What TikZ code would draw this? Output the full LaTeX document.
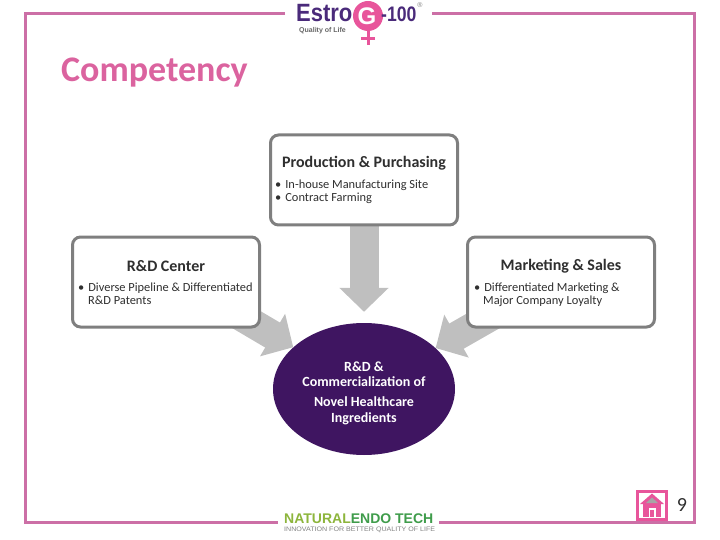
\documentclass[tikz,border=0pt]{standalone}
\usepackage{graphicx}
\usepackage{fontspec}
\setmainfont{Carlito}
\newfontfamily\logofont{Liberation Sans}
\usetikzlibrary{arrows.meta,shapes.geometric,backgrounds}
\definecolor{framepink}{HTML}{CC6FA6}
\definecolor{titlepink}{HTML}{DB639F}
\definecolor{logopink}{HTML}{E8559B}
\definecolor{logopurple}{HTML}{4A2A7A}
\definecolor{corepurple}{HTML}{3F1561}
\definecolor{boxgray}{HTML}{7F7F7F}
\definecolor{arrowgray}{HTML}{BFBFBF}
\definecolor{textgray}{HTML}{2F2F2F}
\definecolor{leafgreen}{HTML}{8DB53C}
\definecolor{endogreen}{HTML}{3F9C4B}
\tikzset{
	infobox/.style={draw=boxgray, line width=3, rounded corners=8, fill=white, minimum width=187, minimum height=90, inner sep=0},
	boxtitle/.style={font=\fontsize{16}{16}\selectfont\bfseries, text=textgray, inner sep=0},
	boxitem/.style={font=\fontsize{12.4}{13.5}\selectfont, text=textgray, align=left, inner sep=0, anchor=north west},
	coretext/.style={font=\fontsize{14}{15.5}\selectfont\bfseries, text=white, align=center, inner sep=0},
	blockarrow/.style={line width=29, draw=arrowgray, -{Triangle[length=24pt, width=48pt]}},
}

\begin{document}
\begin{tikzpicture}[x=1pt, y=-1pt]
	\useasboundingbox (0, 0) rectangle (720, 540);

	% frame, open behind the two logos
	\draw[framepink, line width=3, line join=miter] (285, 14) -- (25, 14) -- (25, 522.5) -- (278, 522.5);
	\draw[framepink, line width=3, line join=miter] (439, 522.5) -- (694.5, 522.5) -- (694.5, 14) -- (432, 14);

	% header logo
	\node[inner sep=0, anchor=west, text=logopurple, font=\logofont\fontsize{25}{25}\selectfont\bfseries] (estro) at (296, 13.5) {\scalebox{.88}[1]{Estro}};
	\fill[logopink] (368, 16) circle (15);
	\fill[logopink] (366.5, 30) rectangle (369.5, 45);
	\fill[logopink] (361, 37.5) rectangle (375, 40.5);
	\node[inner sep=0, text=white, font=\logofont\fontsize{24}{24}\selectfont\bfseries] (letterg) at (367, 16) {G};
	\node[inner sep=0, anchor=west, text=logopurple, font=\logofont\fontsize{21}{21}\selectfont\bfseries] (hundred) at (381, 14.5) {\scalebox{.84}[1]{-100}};
	\node[inner sep=0, text=gray, font=\logofont\fontsize{7}{7}\selectfont] (regmark) at (420, 5) {\textregistered};
	\node[inner sep=0, anchor=west, text=gray!80!black, font=\logofont\fontsize{7}{7}\selectfont\bfseries] (quality) at (299, 31) {Quality of Life};

	\node[inner sep=0, anchor=west, text=titlepink, font=\fontsize{36}{36}\selectfont\bfseries] (title) at (61, 73) {Competency};

	% boxes and centre
	\node[infobox] (prod) at (364, 180) {};
	\node[infobox] (rnd) at (166, 282) {};
	\node[infobox] (mkt) at (561, 282) {};
	\node[ellipse, fill=corepurple, minimum width=182, minimum height=132, inner sep=0] (core) at (364, 389) {};

	\coordinate (rndtail) at (225, 307);
	\coordinate (mkttail) at (497, 313);
	\begin{scope}[on background layer]
		\draw[blockarrow, shorten >=11] (prod) -- (core);
		\draw[blockarrow] (rndtail) -- (core);
		\draw[blockarrow] (mkttail) -- (core);
	\end{scope}

	\node[boxtitle] (prodtitle) at (364, 163) {Production \& Purchasing};
	\node[boxitem] (proditems) at (275, 179.5) {•\hspace{4pt}In-house Manufacturing Site\\•\hspace{4pt}Contract Farming};
	\node[boxtitle] (rndtitle) at (166, 266.5) {R\&D Center};
	\node[boxitem] (rnditems) at (78, 282.5) {•\hspace{4pt}Diverse Pipeline \& Differentiated\\\hspace*{10pt}R\&D Patents};
	\node[boxtitle] (mkttitle) at (561, 266.5) {Marketing \& Sales};
	\node[boxitem] (mktitems) at (474, 282.5) {•\hspace{4pt}Differentiated Marketing \&\\\hspace*{9pt}Major Company Loyalty};
	\node[coretext] (coreupper) at (364, 374) {R\&D \&\\Commercialization of};
	\node[coretext] (corelower) at (364, 411) {Novel Healthcare\\Ingredients};

	% home button and page number
	\draw[logopink, line width=3] (637.5, 491.5) rectangle (666.5, 519.5);
	\fill[logopink] (652, 493.5) -- (664, 504) -- (640, 504) -- cycle;
	\fill[logopink] (643, 504) rectangle (661, 517);
	\fill[gray!70] (652, 497.5) -- (658, 503) -- (646, 503) -- cycle;
	\fill[white] (648.5, 508) rectangle (655.5, 517);
	\fill[logopink] (650, 510) rectangle (654, 517);
	\node[inner sep=0, text=textgray, font=\fontsize{20}{20}\selectfont] (pagenum) at (682, 505) {9};

	% footer logo
	\node[inner sep=0, anchor=west, font=\logofont\fontsize{14}{14}\selectfont\bfseries] (natural) at (284, 518.5) {\textcolor{leafgreen}{NATURAL}\textcolor{endogreen}{ENDO TECH}};
	\node[inner sep=0, anchor=west, text=gray, font=\logofont\fontsize{6.5}{6.5}\selectfont] (slogan) at (284, 530) {\scalebox{1.09}[1]{INNOVATION FOR BETTER QUALITY OF LIFE}};
\end{tikzpicture}
\end{document}
